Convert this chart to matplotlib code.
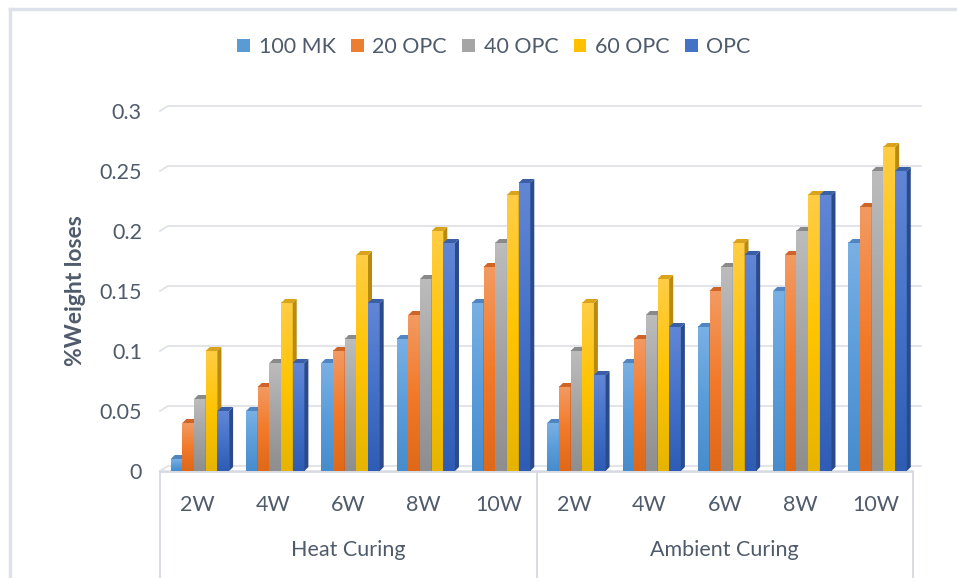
import matplotlib
matplotlib.use("Agg")
import matplotlib.pyplot as plt
from matplotlib.patches import Patch, Polygon
from matplotlib.colors import to_rgb
import numpy as np

# Data
weeks = ["2W", "4W", "6W", "8W", "10W"]
groups = ["Heat Curing", "Ambient Curing"]
series = ["100 MK", "20 OPC", "40 OPC", "60 OPC", "OPC"]

mk100 = [0.01, 0.05, 0.09, 0.11, 0.14, 0.04, 0.09, 0.12, 0.15, 0.19]
opc20 = [0.04, 0.07, 0.10, 0.13, 0.17, 0.07, 0.11, 0.15, 0.18, 0.22]
opc40 = [0.06, 0.09, 0.11, 0.16, 0.19, 0.10, 0.13, 0.17, 0.20, 0.25]
opc60 = [0.10, 0.14, 0.18, 0.20, 0.23, 0.14, 0.16, 0.19, 0.23, 0.27]
opc = [0.05, 0.09, 0.14, 0.19, 0.24, 0.08, 0.12, 0.18, 0.23, 0.25]
values = [mk100, opc20, opc40, opc60, opc]

yticks = [0, 0.05, 0.1, 0.15, 0.2, 0.25, 0.3]

# colours: legend swatch, gradient (top, middle, bottom), top face, side face
swatch = ["#5b9bd5", "#ed7d31", "#a5a5a5", "#ffc000", "#4472c4"]
grad = [("#79b0e4", "#5b9dda", "#478ccc"),
        ("#f39a62", "#f27a2a", "#df6819"),
        ("#bcbcbc", "#a3a3a3", "#8e8e8e"),
        ("#ffcd45", "#ffc400", "#e6b400"),
        ("#6286d6", "#4472c8", "#2f5db5")]
topc = ["#4f86c2", "#cf6428", "#8a8a8a", "#d9a41c", "#3b5fa6"]
sidec = ["#3c6fa8", "#b3541c", "#727272", "#b88a10", "#2b4a8a"]

txt = "#4f5b6b"
fs = 15.5
plt.rcParams["font.family"] = ["Lato", "DejaVu Sans"]

W, H = 957, 578
fig = plt.figure(figsize=(W / 100, H / 100), dpi=100)
ax = fig.add_axes([160 / W, (H - 471) / H, 753 / W, 360 / H])
ax.set_xlim(-0.5, 9.5)
ax.set_ylim(0, 0.3)

# pixel sizes in data units
px_x = 10 / 753
px_y = 0.3 / 360

# back wall gridlines with the slanted wall edge on the left
gdx, gdy = 8 * px_x, 5 * px_y
for v in yticks:
    ax.plot([-0.5, -0.5 + gdx, 9.5 + gdx], [v, v + gdy, v + gdy],
            color="#dfe2e7", lw=1.3, zorder=0, clip_on=False)
ax.plot([-0.5, 9.5], [0, 0], color="#dfe2e7", lw=1.3, zorder=0, clip_on=False)

# 3D-looking bars
bw = 0.155
dx, dy = 4 * px_x, 4 * px_y
x = np.arange(10)


def gradient(cols, n=64):
    t = np.linspace(0, 1, n)
    top, mid, bot = [np.array(to_rgb(c)) for c in cols]
    out = np.where(t[:, None] < 0.5,
                   bot + (mid - bot) * (t[:, None] / 0.5),
                   mid + (top - mid) * ((t[:, None] - 0.5) / 0.5))
    return out[:, None, :]


z = 2
for i in range(10):
    for s in range(5):
        h = values[s][i]
        x0 = x[i] + 0.03 + (s - 2.5) * bw
        x1 = x0 + bw
        ax.imshow(gradient(grad[s]), extent=(x0, x1, 0, h), origin="lower",
                  aspect="auto", zorder=z, interpolation="bilinear")
        ax.add_patch(Polygon([(x1, 0), (x1 + dx, dy), (x1 + dx, h + dy), (x1, h)],
                             closed=True, fc=sidec[s], ec="none", zorder=z + 0.1))
        ax.add_patch(Polygon([(x0, h), (x0 + dx, h + dy), (x1 + dx, h + dy), (x1, h)],
                             closed=True, fc=topc[s], ec="none", zorder=z + 0.1))
        z += 0.2

ax.set_xlim(-0.5, 9.5)
ax.set_ylim(0, 0.3)
for sp in ax.spines.values():
    sp.set_visible(False)

ax.set_yticks(yticks)
ax.set_yticklabels(["0", "0.05", "0.1", "0.15", "0.2", "0.25", "0.3"])
ax.tick_params(axis="y", length=0, pad=13, labelsize=fs, labelcolor=txt)
ax.set_xticks([])
ax.set_ylabel("%Weight loses", fontsize=16.5, fontweight="bold", color=txt)
ax.yaxis.set_label_coords(-(160 - 86) / 753, 0.5)

# category box below the plot
tr = ax.get_xaxis_transform()
box_kw = dict(color="#d6dae0", lw=1.3, clip_on=False, transform=tr)
ax.plot([-0.5, 9.5], [-1 / 360, -1 / 360], **box_kw)
for xv in [-0.5, 4.5, 9.5]:
    ax.plot([xv, xv], [-1 / 360, -110 / 360], **box_kw)

for i in range(10):
    ax.text(x[i], -34 / 360, weeks[i % 5], transform=tr, ha="center", va="center",
            fontsize=fs, color=txt)
for g, name in enumerate(groups):
    ax.text(2 + 5 * g, -79 / 360, name, transform=tr, ha="center", va="center",
            fontsize=fs, color=txt)

# legend
handles = [Patch(fc=c, ec="none") for c in swatch]
leg = fig.legend(handles, series, loc="center", bbox_to_anchor=(494 / W, 1 - 47 / H),
                 ncol=5, frameon=False, fontsize=fs, handlelength=0.6, handleheight=0.6,
                 handletextpad=0.4, columnspacing=0.7)
for t in leg.get_texts():
    t.set_color(txt)

# chart area border
fig.add_artist(plt.Line2D([10 / W, 1], [1 - 9 / H, 1 - 9 / H], color="#dde2ea", lw=2.5))
fig.add_artist(plt.Line2D([10 / W, 10 / W], [0, 1 - 9 / H], color="#dde2ea", lw=2.5))

fig.savefig("out.png", dpi=100)
